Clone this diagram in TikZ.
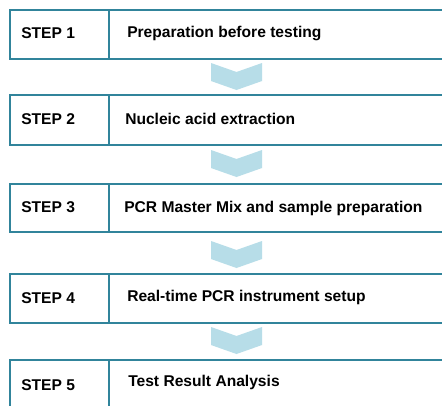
\documentclass[tikz,border=0pt]{standalone}
\usepackage{fontspec}
\setmainfont{Liberation Sans}
\definecolor{teal1}{HTML}{31849B}
\definecolor{chev}{HTML}{B7DDE8}
\begin{document}
\begin{tikzpicture}[x=0.75pt,y=-0.75pt,
  box/.style={draw=teal1,line width=1.7pt,fill=white,rectangle,anchor=north west,minimum width=460*0.75pt,inner sep=0pt},
  lbl/.style={anchor=west,font=\fontsize{11.7pt}{13pt}\selectfont\bfseries,inner sep=0pt},
  chevron/.style={fill=chev,draw=none}]
\clip (0,0) rectangle (442,405);
\fill[white] (0,0) rectangle (442,405);
\foreach \i/\t/\b in {1/9/58,2/94/144,3/183/231,4/273/322,5/359/408}{
  \node[box,minimum height={(\b-\t)*0.75pt}] (b\i) at (8.5,\t) {};
  \draw[teal1,line width=1.7pt] (109,\t) -- (109,\b);
}
\node[lbl] (s1) at (21,33.5) {STEP 1};
\node[lbl] (s2) at (21,119.5) {STEP 2};
\node[lbl] (s3) at (21,207.5) {STEP 3};
\node[lbl] (s4) at (21,298) {STEP 4};
\node[lbl] (s5) at (21,385) {STEP 5};
\node[lbl] (t1) at (127,33) {Preparation before testing};
\node[lbl] (t2) at (125,119) {Nucleic acid extraction};
\node[lbl] (t3) at (124,208) {PCR Master Mix and sample preparation};
\node[lbl] (t4) at (127,297.5) {Real-time PCR instrument setup};
\node[lbl] (t5) at (128,382) {Test Result Analysis};
\foreach \c in {76.5,163.5,254.5,340.5}{
  \fill[chevron] (211,\c-13.5) -- (236.5,\c-4.5) -- (262,\c-13.5) -- (262,\c+4.5) -- (236.5,\c+13.5) -- (211,\c+4.5) -- cycle;
}
\end{tikzpicture}
\end{document}
